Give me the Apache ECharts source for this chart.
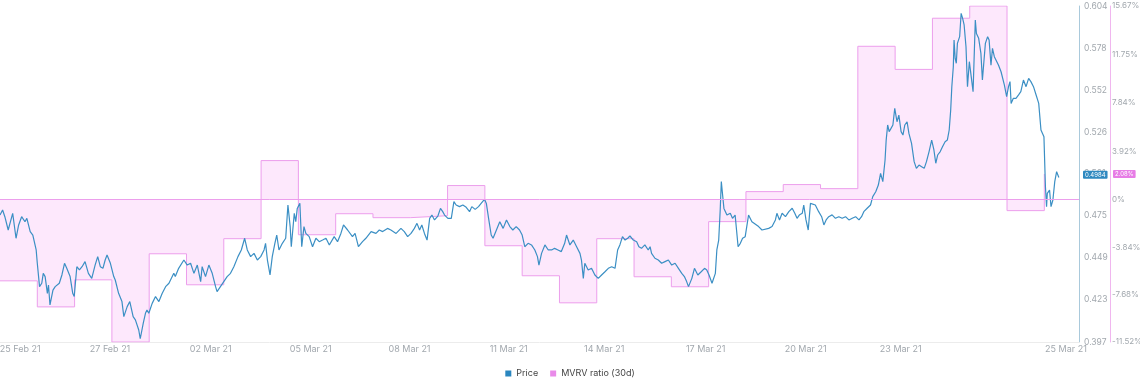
<!DOCTYPE html>
<html><head><meta charset="utf-8">
<script src="https://cdn.jsdelivr.net/npm/echarts@6/dist/echarts.min.js"></script>
<style>html,body{margin:0;padding:0;background:#fff}#c{width:1140px;height:391px}</style>
</head><body><div id="c"></div>
<script>
// x axis: days since 25 Feb 2021 00:00
const dateLabels = ['25 Feb 21','27 Feb 21','02 Mar 21','05 Mar 21','08 Mar 21','11 Mar 21','14 Mar 21','17 Mar 21','20 Mar 21','23 Mar 21','25 Mar 21'];
const dateTickDays = [0.54, 2.95, 5.65, 8.33, 10.98, 13.64, 16.2, 18.92, 21.6, 24.15, 28.58];
const priceTicks = [0.397, 0.423, 0.449, 0.475, 0.501, 0.526, 0.552, 0.578, 0.604];
const mvrvTicks = [-11.52, -7.68, -3.84, 0, 3.92, 7.84, 11.75, 15.67];

// MVRV ratio (30d), one value per day (day index from 25 Feb 21)
const mvrvDays = [0,1,2,3,4,5,6,7,8,9,10,11,12,13,14,15,16,17,18,19,20,21,22,23,24,25,26,27,28];
const mvrvValues = [-6.57,-8.68,-6.49,-11.52,-4.38,-6.89,-3.16,3.16,-2.84,-1.14,-1.46,-1.30,1.14,-3.73,-6.16,-8.35,-3.16,-6.24,-7.05,-1.78,0.65,1.22,0.89,12.41,10.54,14.68,15.67,-0.89,2.08];

// Price: [day, price]
const priceData = [
[0,0.4752],[0.07,0.4783],[0.13,0.4742],[0.22,0.4660],[0.34,0.4763],[0.43,0.4609],[0.5,0.4691],[0.58,0.4742],[0.67,0.4711],[0.72,0.4732],[0.81,0.4650],[0.88,0.4629],[0.97,0.4537],[1.0,0.4455],[1.06,0.4311],[1.12,0.4332],[1.16,0.4393],[1.21,0.4373],[1.27,0.4270],[1.3,0.4321],[1.34,0.4198],[1.42,0.4290],[1.48,0.4311],[1.52,0.4301],[1.59,0.4332],[1.66,0.4383],[1.73,0.4455],[1.79,0.4424],[1.88,0.4373],[1.95,0.4270],[1.99,0.4250],[2.06,0.4434],[2.13,0.4414],[2.2,0.4434],[2.28,0.4465],[2.37,0.4393],[2.46,0.4362],[2.55,0.4444],[2.62,0.4496],[2.69,0.4434],[2.76,0.4424],[2.82,0.4475],[2.87,0.4506],[2.96,0.4455],[3.05,0.4373],[3.09,0.4352],[3.18,0.4270],[3.27,0.4219],[3.32,0.4126],[3.41,0.4188],[3.48,0.4219],[3.57,0.4126],[3.63,0.4106],[3.72,0.4044],[3.76,0.3990],[3.84,0.4085],[3.9,0.4147],[3.94,0.4167],[3.99,0.4147],[4.08,0.4208],[4.17,0.4250],[4.26,0.4219],[4.35,0.4270],[4.44,0.4311],[4.53,0.4332],[4.66,0.4393],[4.7,0.4373],[4.79,0.4424],[4.93,0.4475],[5.02,0.4444],[5.11,0.4455],[5.2,0.4393],[5.29,0.4444],[5.38,0.4342],[5.42,0.4434],[5.51,0.4373],[5.6,0.4444],[5.69,0.4393],[5.78,0.4311],[5.82,0.4280],[5.91,0.4311],[6.0,0.4342],[6.09,0.4373],[6.18,0.4393],[6.27,0.4434],[6.38,0.4496],[6.47,0.4537],[6.56,0.4609],[6.63,0.4537],[6.72,0.4496],[6.81,0.4516],[6.9,0.4475],[6.99,0.4496],[7.08,0.4537],[7.12,0.4578],[7.17,0.4475],[7.24,0.4383],[7.3,0.4496],[7.37,0.4578],[7.42,0.4629],[7.48,0.4537],[7.57,0.4578],[7.66,0.4609],[7.72,0.4814],[7.78,0.4681],[7.81,0.4557],[7.89,0.4763],[7.93,0.4711],[7.97,0.4793],[8.04,0.4824],[8.09,0.4557],[8.15,0.4681],[8.2,0.4639],[8.29,0.4619],[8.38,0.4557],[8.47,0.4609],[8.56,0.4588],[8.65,0.4598],[8.74,0.4609],[8.83,0.4568],[8.96,0.4619],[9.05,0.4588],[9.14,0.4639],[9.21,0.4691],[9.32,0.4660],[9.45,0.4619],[9.52,0.4639],[9.61,0.4557],[9.72,0.4588],[9.81,0.4609],[9.95,0.4650],[10.08,0.4639],[10.17,0.4660],[10.26,0.4650],[10.39,0.4670],[10.48,0.4660],[10.62,0.4639],
[10.75,0.4670],[10.84,0.4650],[10.93,0.4619],[11.02,0.4639],[11.11,0.4670],[11.18,0.4701],[11.25,0.4660],[11.31,0.4691],[11.38,0.4639],[11.45,0.4598],[11.52,0.4732],[11.58,0.4752],[11.65,0.4722],[11.74,0.4746],[11.81,0.4793],[11.87,0.4773],[11.92,0.4752],[12.01,0.4732],[12.1,0.4732],[12.17,0.4835],[12.23,0.4814],[12.32,0.4804],[12.41,0.4814],[12.5,0.4800],[12.59,0.4773],[12.65,0.4804],[12.74,0.4787],[12.83,0.4804],[12.9,0.4824],[12.99,0.4849],[13.04,0.4824],[13.1,0.4732],[13.17,0.4629],[13.22,0.4609],[13.31,0.4660],[13.4,0.4711],[13.49,0.4670],[13.58,0.4722],[13.67,0.4681],[13.75,0.4660],[13.84,0.4681],[13.93,0.4660],[14.0,0.4629],[14.07,0.4557],[14.16,0.4578],[14.25,0.4568],[14.34,0.4537],[14.41,0.4496],[14.45,0.4444],[14.52,0.4516],[14.61,0.4568],[14.7,0.4537],[14.79,0.4537],[14.87,0.4547],[14.96,0.4537],[15.05,0.4527],[15.14,0.4578],[15.19,0.4629],[15.28,0.4568],[15.37,0.4598],[15.46,0.4557],[15.55,0.4516],[15.59,0.4475],[15.64,0.4362],[15.68,0.4455],[15.77,0.4414],[15.86,0.4424],[15.95,0.4383],[16.04,0.4362],[16.13,0.4383],[16.22,0.4403],[16.31,0.4424],[16.4,0.4434],[16.49,0.4424],[16.56,0.4537],[16.62,0.4568],[16.69,0.4619],[16.76,0.4598],[16.83,0.4609],[16.89,0.4623],[16.98,0.4598],[17.07,0.4588],[17.13,0.4557],[17.2,0.4547],[17.29,0.4568],[17.38,0.4537],[17.43,0.4557],[17.47,0.4516],[17.56,0.4486],[17.65,0.4475],[17.74,0.4455],[17.83,0.4465],[17.92,0.4475],[18.01,0.4444],[18.1,0.4455],[18.19,0.4424],[18.28,0.4393],[18.35,0.4373],[18.41,0.4342],[18.46,0.4311],[18.55,0.4362],[18.62,0.4424],[18.71,0.4383],[18.8,0.4403],[18.89,0.4424],[18.95,0.4414],[19.01,0.4383],[19.09,0.4332],[19.13,0.4342],[19.18,0.4393],[19.22,0.4537],[19.27,0.4598],[19.31,0.4783],[19.34,0.4958],[19.37,0.4886],[19.41,0.4793],[19.49,0.4752],[19.58,0.4763],[19.64,0.4732],[19.71,0.4752],[19.79,0.4557],[19.85,0.4578],[19.91,0.4609],[19.98,0.4619],[20.07,0.4752],
[20.16,0.4711],[20.34,0.4681],[20.43,0.4660],[20.61,0.4670],[20.7,0.4681],[20.79,0.4722],[20.83,0.4763],[20.9,0.4722],[20.97,0.4763],[21.06,0.4742],[21.15,0.4773],[21.24,0.4794],[21.31,0.4763],[21.37,0.4732],[21.43,0.4752],[21.51,0.4763],[21.55,0.4814],[21.61,0.4722],[21.67,0.4660],[21.73,0.4824],[21.77,0.4835],[21.86,0.4814],[21.95,0.4773],[22.03,0.4742],[22.09,0.4691],[22.15,0.4722],[22.22,0.4742],[22.31,0.4753],[22.4,0.4732],[22.49,0.4742],[22.58,0.4732],[22.67,0.4742],[22.76,0.4722],[22.85,0.4732],[22.94,0.4742],[23.03,0.4722],[23.1,0.4742],[23.16,0.4773],[23.25,0.4794],[23.34,0.4814],[23.4,0.4866],[23.48,0.4896],[23.55,0.4937],[23.61,0.5009],[23.67,0.4958],[23.73,0.5091],[23.76,0.5214],[23.8,0.5307],[23.84,0.5266],[23.89,0.5286],[23.94,0.5307],[23.99,0.5409],[24.05,0.5327],[24.1,0.5368],[24.16,0.5266],[24.21,0.5245],[24.26,0.5307],[24.32,0.5327],[24.37,0.5255],[24.44,0.5194],[24.51,0.5081],[24.57,0.5040],[24.64,0.5060],[24.71,0.5050],[24.78,0.5040],[24.84,0.5081],[24.91,0.5143],[24.98,0.5214],[25.04,0.5153],[25.09,0.5071],[25.14,0.5122],[25.21,0.5143],[25.27,0.5173],[25.34,0.5204],[25.4,0.5214],[25.45,0.5276],[25.49,0.5399],[25.52,0.5543],[25.56,0.5666],[25.58,0.5830],[25.61,0.5717],[25.64,0.5687],[25.67,0.5810],[25.73,0.5851],[25.77,0.5995],[25.81,0.5964],[25.85,0.5923],[25.9,0.5789],[25.94,0.5543],[25.99,0.5697],[26.04,0.5605],[26.09,0.5512],[26.15,0.5954],[26.18,0.5871],[26.24,0.5841],[26.3,0.5748],[26.34,0.5584],[26.42,0.5810],[26.48,0.5851],[26.52,0.5830],[26.57,0.5676],[26.61,0.5779],[26.66,0.5728],[26.7,0.5717],[26.77,0.5676],[26.84,0.5635],[26.93,0.5553],[26.99,0.5481],[27.04,0.5543],[27.08,0.5574],[27.11,0.5440],[27.17,0.5471],[27.24,0.5471],[27.31,0.5492],[27.37,0.5512],[27.44,0.5584],[27.51,0.5543],[27.58,0.5594],[27.64,0.5574],[27.71,0.5543],[27.78,0.5492],[27.85,0.5440],[27.91,0.5276],[27.96,0.5286],[27.99,0.5235],[28.03,0.4927],[28.06,0.4804],[28.08,0.4886],[28.14,0.4906],[28.18,0.4804],[28.23,0.4845],[28.28,0.4958],[28.33,0.5019],[28.39,0.4984]
];
const lastPriceLabel = '0.4984';
const lastMvrvLabel = '2.08%';

const X_MAX = 28.93;

const FONT = 'Inter, "Open Sans", sans-serif';
const LABEL_GRAY = '#a2a8ae';
const PRICE_COLOR = '#3b8fc4';
const MVRV_COLOR = '#ec9eec';
const NOLINE = {color: 'rgba(0,0,0,0)', width: 0};

const chart = echarts.init(document.getElementById('c'), null, {renderer: 'canvas'});
chart.setOption({
  animation: false,
  backgroundColor: '#ffffff',
  textStyle: {fontFamily: FONT},
  grid: {left: 0, right: 61, top: 6, bottom: 49, containLabel: false, outerBoundsMode: 'none'},
  legend: {
    data: ['Price', 'MVRV ratio (30d)'],
    left: 'center', top: 364,
    icon: 'rect', itemWidth: 6, itemHeight: 6, itemGap: 12,
    textStyle: {fontSize: 9, color: '#444', fontFamily: FONT}
  },
  xAxis: {
    type: 'value', min: 0, max: X_MAX,
    axisLine: {show: true, onZero: false, lineStyle: {color: '#ececec', width: 1}},
    axisTick: {show: false},
    splitLine: {show: false},
    axisLabel: {
      customValues: dateTickDays,
      formatter: (v) => dateLabels[dateTickDays.indexOf(v)],
      color: LABEL_GRAY, fontSize: 9, margin: 3, fontFamily: FONT
    }
  },
  yAxis: [
    {
      type: 'value', position: 'right', offset: 0,
      min: priceTicks[0], max: priceTicks[priceTicks.length - 1],
      axisLine: {show: true, onZero: false, lineStyle: {color: '#a9c9db', width: 1}},
      axisTick: {show: false},
      splitLine: {show: false},
      axisLabel: {
        customValues: priceTicks,
        formatter: (v) => v.toFixed(3),
        color: LABEL_GRAY, fontSize: 8.5, margin: 5, fontFamily: FONT
      }
    },
    {
      type: 'value', position: 'right', offset: 31,
      min: mvrvTicks[0], max: mvrvTicks[mvrvTicks.length - 1],
      axisLine: {show: true, onZero: false, lineStyle: {color: '#f0b6ef', width: 1}},
      axisTick: {show: false},
      splitLine: {show: false},
      axisLabel: {
        customValues: mvrvTicks,
        formatter: (v) => (v === 0 ? '0' : String(v)) + '%',
        color: LABEL_GRAY, fontSize: 8, margin: 2, fontFamily: FONT
      }
    }
  ],
  series: [
    {
      name: 'MVRV ratio (30d)', type: 'line', yAxisIndex: 1,
      step: 'end', showSymbol: false, symbol: 'none',
      data: mvrvDays.map((d, i) => [d, mvrvValues[i]]),
      itemStyle: {color: '#e98be9'},
      lineStyle: {color: MVRV_COLOR, width: 1},
      areaStyle: {color: '#fde8fc', opacity: 1, origin: 0},
      z: 2,
      markLine: {
        silent: true, symbol: ['none', 'none'], animation: false,
        data: [
          {yAxis: 0, lineStyle: {color: MVRV_COLOR, width: 1, type: 'solid'}, label: {show: false}},
          {yAxis: mvrvValues[mvrvValues.length - 1], lineStyle: NOLINE,
           label: {show: true, position: 'end', distance: 34, formatter: lastMvrvLabel,
             color: '#fff', backgroundColor: '#e77de6', fontSize: 6, fontFamily: FONT,
             padding: [1, 2, 1, 2], borderRadius: 1}}
        ]
      }
    },
    {
      name: 'Price', type: 'line', yAxisIndex: 0,
      showSymbol: false, symbol: 'none',
      data: priceData,
      itemStyle: {color: '#2a86bf'},
      lineStyle: {color: PRICE_COLOR, width: 1.2},
      z: 3,
      markLine: {
        silent: true, symbol: ['none', 'none'], animation: false,
        data: [
          {yAxis: priceData[priceData.length - 1][1], lineStyle: NOLINE,
           label: {show: true, position: 'end', distance: 4, formatter: lastPriceLabel,
             color: '#fff', backgroundColor: '#2f89c0', fontSize: 6, fontFamily: FONT,
             padding: [1, 2, 1, 2], borderRadius: 1}}
        ]
      }
    }
  ]
});
</script>
</body></html>
